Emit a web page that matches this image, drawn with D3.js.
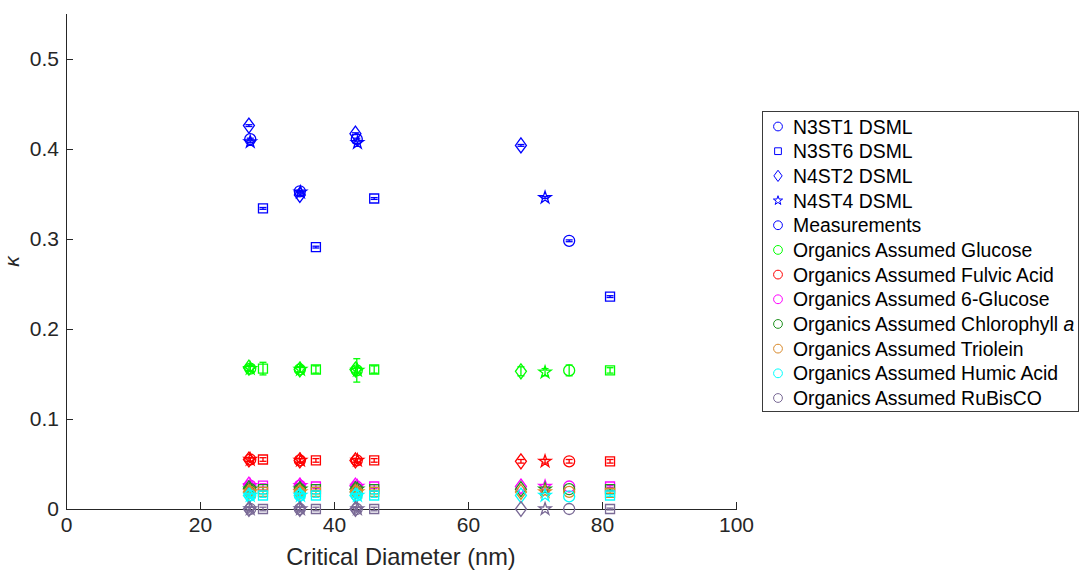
<!DOCTYPE html>
<html>
<head>
<meta charset="utf-8">
<script src="https://cdn.jsdelivr.net/npm/d3@7"></script>
<style>
  body { margin: 0; background: #fff; }
  svg { display: block; font-family: Arial, "Liberation Sans", sans-serif; }
</style>
</head>
<body>
<div id="chart"></div>
<script>
// Datasets (one marker shape each)
const datasets = ["N3ST1 DSML", "N3ST6 DSML", "N4ST2 DSML", "N4ST4 DSML"];
const shapes = ["circle", "square", "diamond", "star"];

// Critical diameter (nm) per dataset
const diameters = [
  [27.5, 34.9, 43.4, 75.1],
  [29.4, 37.3, 46.0, 81.2],
  [27.3, 34.9, 43.2, 67.9],
  [27.5, 35.0, 43.5, 71.5]
];

// kappa values, rows = datasets
const measKappa = [[0.411, 0.353, 0.411, 0.298], [0.334, 0.291, 0.345, 0.236], [0.426, 0.349, 0.417, 0.404], [0.408, 0.352, 0.407, 0.346]];
const measErr   = [[0.001, 0.001, 0.001, 0.001], [0.001, 0.001, 0.001, 0.001], [0.001, 0.001, 0.001, 0.001], [0.001, 0.001, 0.001, 0.001]];

const glucoseKappa = [[0.156, 0.155, 0.154, 0.154], [0.156, 0.155, 0.155, 0.154], [0.157, 0.155, 0.155, 0.153], [0.156, 0.155, 0.154, 0.152]];
const glucoseErr   = [[0.003, 0.003, 0.013, 0.006], [0.007, 0.004, 0.004, 0.003], [0.003, 0.003, 0.003, 0.005], [0.003, 0.003, 0.003, 0.004]];

const fulvicKappa = [[0.055, 0.054, 0.054, 0.053], [0.055, 0.054, 0.054, 0.053], [0.055, 0.054, 0.054, 0.053], [0.055, 0.054, 0.054, 0.053]];
const fulvicErr   = [[0.002, 0.002, 0.002, 0.002], [0.002, 0.002, 0.002, 0.002], [0.002, 0.002, 0.002, 0.002], [0.002, 0.002, 0.002, 0.002]];

const glucose6Kappa = [[0.026, 0.026, 0.025, 0.025], [0.026, 0.025, 0.025, 0.025], [0.027, 0.026, 0.026, 0.025], [0.026, 0.026, 0.025, 0.025]];
const chloroKappa   = [[0.022, 0.022, 0.022, 0.022], [0.022, 0.022, 0.022, 0.022], [0.023, 0.022, 0.022, 0.022], [0.022, 0.022, 0.022, 0.022]];
const trioleinKappa = [[0.019, 0.019, 0.019, 0.019], [0.019, 0.019, 0.019, 0.018], [0.019, 0.019, 0.019, 0.019], [0.019, 0.019, 0.019, 0.019]];
const humicKappa    = [[0.015, 0.015, 0.015, 0.014], [0.015, 0.015, 0.015, 0.015], [0.015, 0.015, 0.015, 0.015], [0.015, 0.015, 0.015, 0.015]];
const rubiscoKappa  = [[0.000, 0.000, 0.000, 0.000], [0.000, 0.000, 0.000, 0.000], [0.000, 0.000, 0.000, 0.000], [0.000, 0.000, 0.000, 0.000]];
const lowErr        = [[0.002, 0.002, 0.002, 0], [0.002, 0.002, 0.002, 0.001], [0.002, 0.002, 0.002, 0], [0.002, 0.002, 0.002, 0]];

const xTicks = [0, 20, 40, 60, 80, 100];
const yTicks = [0, 0.1, 0.2, 0.3, 0.4, 0.5];

// series built from the arrays above
const series = [
  { name: "Measurements", color: "#0000ff", k: measKappa, e: measErr },
  { name: "Organics Assumed Glucose", color: "#00ff00", k: glucoseKappa, e: glucoseErr },
  { name: "Organics Assumed Fulvic Acid", color: "#ff0000", k: fulvicKappa, e: fulvicErr },
  { name: "Organics Assumed 6-Glucose", color: "#ff00ff", k: glucose6Kappa, e: lowErr },
  { name: "Organics Assumed Chlorophyll", italic: "a", color: "#1f911f", k: chloroKappa, e: lowErr },
  { name: "Organics Assumed Triolein", color: "#d98a2b", k: trioleinKappa, e: lowErr },
  { name: "Organics Assumed Humic Acid", color: "#00ffff", k: humicKappa, e: lowErr },
  { name: "Organics Assumed RuBisCO", color: "#7a6a96", k: rubiscoKappa, e: lowErr }
];

const W = 1083, H = 571;
const svg = d3.select("#chart").append("svg").attr("width", W).attr("height", H);

const x = d3.scaleLinear().domain([0, 100]).range([66, 736]);
const y = d3.scaleLinear().domain([0, 0.55]).range([509, 14]);

// marker paths
function markerPath(shape, s) {
  s = s || 1;
  if (shape === "circle") return d3.symbol(d3.symbolCircle, Math.PI * 5.5 * 5.5 * s * s)();
  if (shape === "square") return d3.symbol(d3.symbolSquare, 81 * s * s)();
  if (shape === "star") return d3.symbol(d3.symbolStar, 47 * s * s)();
  const hw = 5.5 * s, hh = 7.5 * s;
  return `M0,${-hh}L${hw},0L0,${hh}L${-hw},0Z`;
}

// axes
const axColor = "#262626";
const gx = svg.append("g").attr("transform", `translate(0,${y(0)})`)
  .call(d3.axisBottom(x).tickValues(xTicks).tickSizeInner(-7).tickSizeOuter(0).tickPadding(8).tickFormat(d3.format("d")));
const gy = svg.append("g").attr("transform", `translate(${x(0)},0)`)
  .call(d3.axisLeft(y).tickValues(yTicks).tickSizeInner(-7).tickSizeOuter(0).tickPadding(7).tickFormat(d => d === 0 ? "0" : d3.format(".1f")(d)));
[gx, gy].forEach(g => {
  g.selectAll("path, line").attr("stroke", axColor).attr("shape-rendering", "crispEdges");
  g.selectAll("text").attr("fill", axColor).attr("font-size", 21).attr("font-family", "Arial, 'Liberation Sans', sans-serif");
});
// extend y axis line to top of range
gy.select(".domain").attr("d", `M0.5,${y(0)}V${y(0.55)}`);

// axis labels
svg.append("text")
  .attr("x", 401).attr("y", 565)
  .attr("text-anchor", "middle")
  .attr("font-size", 23.6).attr("fill", axColor)
  .text("Critical Diameter (nm)");
svg.append("text")
  .attr("transform", `translate(19,${(y(0) + y(0.55)) / 2}) rotate(-90)`)
  .attr("text-anchor", "middle")
  .attr("font-size", 21).attr("font-style", "italic")
  .attr("fill", axColor)
  .text("κ");

// points + error bars
const plot = svg.append("g");
series.forEach(s => {
  datasets.forEach((ds, di) => {
    diameters[di].forEach((d, i) => {
      const cx = x(d), cy = y(s.k[di][i]), err = s.e[di][i];
      const g = plot.append("g").attr("stroke", s.color).attr("fill", "none").attr("stroke-width", 1.3);
      if (err > 0) {
        const y1 = y(s.k[di][i] + err), y2 = y(s.k[di][i] - err);
        g.append("line").attr("x1", cx).attr("x2", cx).attr("y1", y1).attr("y2", y2);
        g.append("line").attr("x1", cx - 3.5).attr("x2", cx + 3.5).attr("y1", y1).attr("y2", y1);
        g.append("line").attr("x1", cx - 3.5).attr("x2", cx + 3.5).attr("y1", y2).attr("y2", y2);
      }
      g.append("path").attr("d", markerPath(shapes[di])).attr("transform", `translate(${cx},${cy})`);
    });
  });
});

// legend
const lg = svg.append("g");
lg.append("rect")
  .attr("x", 762.5).attr("y", 111.5).attr("width", 316).attr("height", 300)
  .attr("fill", "#fff").attr("stroke", "#3a3a3a").attr("stroke-width", 1);
const legendItems = datasets.map((d, i) => ({ name: d, color: "#0000ff", shape: shapes[i], scale: i === 0 ? 0.8 : 0.75 }))
  .concat(series.map(s => ({ name: s.name, italic: s.italic, color: s.color, shape: "circle", scale: 0.8 })));
const rowY = d3.scaleLinear().domain([0, 11]).range([126.5, 398]);
legendItems.forEach((it, i) => {
  const cy = rowY(i);
  lg.append("path").attr("d", markerPath(it.shape, it.scale))
    .attr("transform", `translate(778,${cy})`)
    .attr("fill", "none").attr("stroke", it.color).attr("stroke-width", 1);
  const t = lg.append("text").attr("x", 793).attr("y", cy + 7)
    .attr("font-size", 19.4).attr("fill", "#000").text(it.name);
  if (it.italic) t.append("tspan").attr("font-style", "italic").text(" " + it.italic);
});
</script>
</body>
</html>
